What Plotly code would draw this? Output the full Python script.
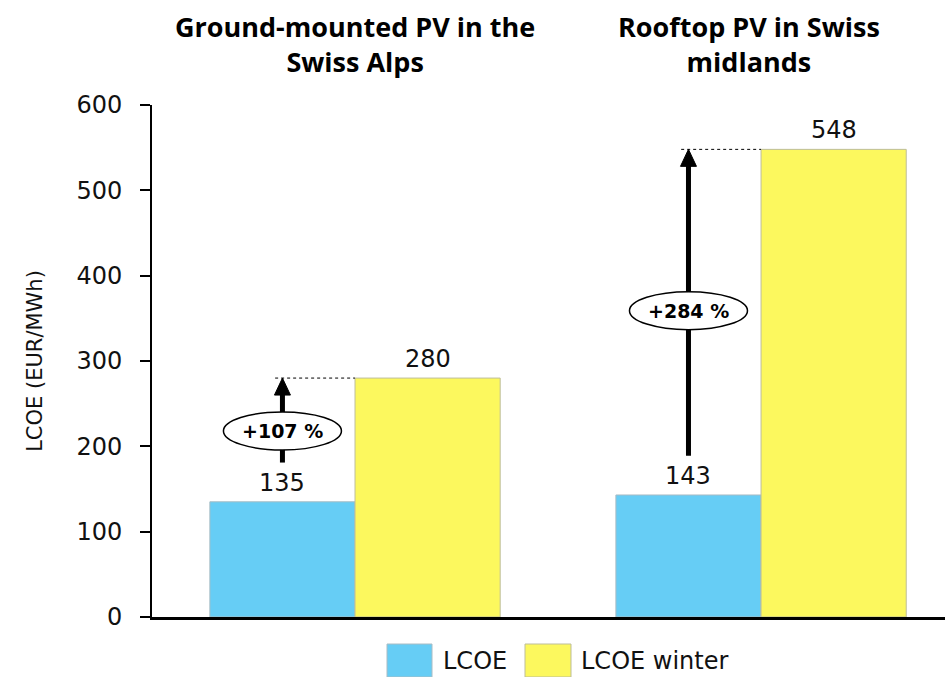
import plotly.graph_objects as go

# LCOE of two PV configurations, annual average vs. winter
groups = ["Ground-mounted PV in the<br>Swiss Alps", "Rooftop PV in Swiss<br>midlands"]
lcoe = [135, 143]
lcoe_winter = [280, 548]
increase_labels = ["+107 %", "+284 %"]
series_names = ["LCOE", "LCOE winter"]
y_ticks = [0, 100, 200, 300, 400, 500, 600]

BLUE = "#66CDF5"
YELLOW = "#FCF85E"

W, H = 945, 677
L, R, T, B = 152, 0, 105, 60
BARGAP = 0.285
bar_w = (1 - BARGAP) / 2
x_pos = list(range(len(groups)))
x_range = [-0.5, 1.453]

tick_font = dict(family="DejaVu Sans", size=24, color="#111")


def px_x(px):
    return (px - L) / (W - L - R)


def px_y(py):
    return (H - B - py) / (H - T - B)


fig = go.Figure()
fig.add_trace(go.Bar(x=x_pos, y=lcoe, name=series_names[0], marker=dict(color=BLUE, line=dict(color="#a9bcc4", width=1))))
fig.add_trace(go.Bar(x=x_pos, y=lcoe_winter, name=series_names[1], marker=dict(color=YELLOW, line=dict(color="#bdbd9a", width=1))))

shapes = []
annotations = []

# value labels above bars
for i in x_pos:
    for off, val in ((-bar_w / 2, lcoe[i]), (bar_w / 2, lcoe_winter[i])):
        annotations.append(dict(x=i + off, y=val, xref="x", yref="y", text=str(val), showarrow=False,
                                yanchor="bottom", yshift=3, font=tick_font))

# increase arrows with ellipse labels
label_y = [218, 359]
for i in x_pos:
    xc = i - bar_w / 2
    lo, hi = lcoe[i], lcoe_winter[i]
    # dashed guide from arrow tip to winter bar
    shapes.append(dict(type="line", xref="x", yref="y", x0=xc - 0.018, x1=i, y0=hi, y1=hi,
                       line=dict(color="black", width=1, dash="3px,3px")))
    # shaft
    shapes.append(dict(type="line", xref="x", yref="y", x0=xc, x1=xc, y0=lo + 46, y1=hi - 12,
                       line=dict(color="black", width=5)))
    # arrow head
    shapes.append(dict(type="path", xref="x", yref="y", xsizemode="pixel", ysizemode="pixel",
                       xanchor=xc, yanchor=hi, path="M-8,-17 L8,-17 L0,0 Z",
                       fillcolor="black", line=dict(color="black", width=1)))
    # ellipse
    shapes.append(dict(type="circle", xref="x", yref="y", xsizemode="pixel", ysizemode="pixel",
                       xanchor=xc, yanchor=label_y[i], x0=-59, x1=59, y0=-19, y1=19,
                       fillcolor="white", line=dict(color="black", width=1.5)))
    annotations.append(dict(x=xc, y=label_y[i], xref="x", yref="y", text="<b>%s</b>" % increase_labels[i],
                            showarrow=False, font=dict(family="DejaVu Sans", size=19, color="black")))

# group titles
title_shift = [0, -12]
for i in x_pos:
    annotations.append(dict(x=i, y=px_y(44), xref="x", yref="paper", yanchor="middle", xshift=title_shift[i],
                            text="<b>%s</b>" % groups[i], showarrow=False, align="center",
                            font=dict(family="Open Sans", size=27, color="black")))

# legend
legend_items = [(387, 432, 441, BLUE, "#a9bcc4", series_names[0]),
                (525, 571, 579, YELLOW, "#bdbd9a", series_names[1])]
for x0, x1, tx, fill, edge, name in legend_items:
    shapes.append(dict(type="rect", xref="paper", yref="paper", x0=px_x(x0), x1=px_x(x1),
                       y0=px_y(677), y1=px_y(644), fillcolor=fill, line=dict(color=edge, width=1)))
    annotations.append(dict(x=px_x(tx), y=px_y(661), xref="paper", yref="paper", xanchor="left",
                            yanchor="middle", text=name, showarrow=False, font=tick_font))

fig.update_layout(
    width=W, height=H, margin=dict(l=L, r=R, t=T, b=B),
    paper_bgcolor="white", plot_bgcolor="white",
    barmode="group", bargap=BARGAP, bargroupgap=0,
    showlegend=False,
    shapes=shapes, annotations=annotations,
    xaxis=dict(range=x_range, showline=True, linecolor="black", linewidth=2.5,
               showticklabels=False, ticks="", showgrid=False, zeroline=False, fixedrange=True),
    yaxis=dict(range=[0, 600], tickvals=y_ticks, showline=True, linecolor="black", linewidth=2,
               ticks="outside", ticklen=10, tickwidth=2, tickcolor="black",
               tickfont=tick_font, ticklabelstandoff=13, showgrid=False, zeroline=False,
               title=dict(text="LCOE (EUR/MWh)", font=dict(family="DejaVu Sans", size=21, color="#111"), standoff=28)),
)

fig.write_html("out.html")
